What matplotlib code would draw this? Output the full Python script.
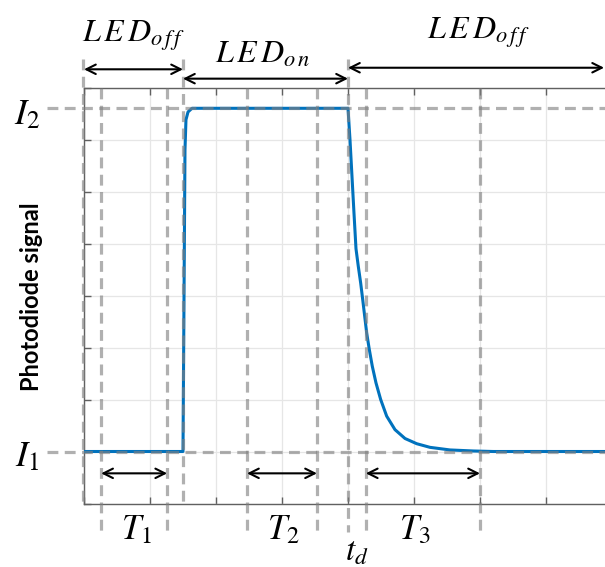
import matplotlib
matplotlib.use('Agg')
from matplotlib import pyplot as plt

plt.rcParams['mathtext.fontset'] = 'stix'

# signal levels
I1 = 1.0
I2 = 7.6

# LED switching times
t_start = 0.0
t_on = 1.5
t_off = 4.0

# measurement windows
T1 = (0.26, 1.26)
T2 = (2.47, 3.53)
T3 = (4.27, 6.0)

# photodiode trace
time = [0.0, 1.5, 1.515, 1.53, 1.545, 1.576, 1.636, 4.0, 4.03, 4.06, 4.09,
        4.121, 4.156, 4.192, 4.223, 4.253, 4.283, 4.323, 4.368, 4.424, 4.495,
        4.586, 4.712, 4.864, 5.041, 5.242, 5.545, 5.9, 6.2, 8.0]
signal = [1.0, 1.0, 3.9, 6.8, 7.38, 7.53, 7.6, 7.6, 7.0, 6.3, 5.6,
          4.9, 4.56, 4.24, 3.92, 3.6, 3.28, 2.96, 2.64, 2.32, 2.0,
          1.68, 1.42, 1.25, 1.15, 1.08, 1.03, 1.01, 1.0, 1.0]

fig = plt.figure(figsize=(6.05, 5.67), dpi=100)
ax = fig.add_axes([84/605, 63.5/567, 528/605, 416/567])

# trace
ax.plot(time, signal, color='#0072BD', lw=2.2, zorder=3)

# axes look (matlab like)
ax.set_xlim(0, 8)
ax.set_ylim(0, 8)
ax.set_xticks(range(9))
ax.set_yticks(range(9))
ax.set_xticklabels([])
ax.set_yticklabels([])
ax.tick_params(direction='in', top=True, length=5, color='#606060', width=1)
ax.grid(True, color='#e6e6e6', lw=0.9)
ax.set_axisbelow(True)
for s in ax.spines.values():
    s.set_color('#606060')
    s.set_linewidth(1.0)

dash = dict(color='gray', alpha=0.62, lw=2.3, dashes=(3.4, 2.0), clip_on=False, zorder=4)

# horizontal level lines
for lev in (I1, I2):
    ax.plot([-0.56, 8], [lev, lev], **dash)

# LED switching lines
ax.plot([t_start - 0.015]*2, [8.54, 0], **dash)
ax.plot([t_on]*2, [8.54, 0], **dash)
ax.plot([t_off]*2, [8.54, -0.54], **dash)

# window edges
for win in (T1, T2, T3):
    for edge in win:
        ax.plot([edge]*2, [8, -0.54], **dash)

def arrow(x0, x1, y):
    ax.annotate('', xy=(x1, y), xytext=(x0, y),
                arrowprops=dict(arrowstyle='<->', color='k', lw=1.5,
                                shrinkA=0, shrinkB=0, mutation_scale=17),
                annotation_clip=False, zorder=5)

arrow(t_start, t_on, 8.35)
arrow(t_on, t_off, 8.17)
arrow(t_off, 7.88, 8.38)
for win in (T1, T2, T3):
    arrow(win[0], win[1], 0.58)

# labels
txt = dict(ha='center', va='baseline', clip_on=False)
ax.text(0.75, 8.88, r'$L\,E\,D_{o\,f\,f}$', fontsize=23, **txt)
ax.text(2.71, 8.48, r'$L\,E\,D_{o\,n}$', fontsize=23, **txt)
ax.text(5.97, 8.94, r'$L\,E\,D_{o\,f\,f}$', fontsize=23, **txt)
ax.text(0.80, -0.69, r'$T_1$', fontsize=25, **txt)
ax.text(3.02, -0.69, r'$T_2$', fontsize=25, **txt)
ax.text(5.02, -0.69, r'$T_3$', fontsize=25, **txt)
ax.text(4.14, -1.1, r'$t_d$', fontsize=24, **txt)
ax.text(-0.86, 7.3, r'$I_2$', fontsize=26, **txt)
ax.text(-0.86, 0.72, r'$I_1$', fontsize=26, **txt)

fig.text(32/605, 1 - 297/567, 'Photodiode signal', rotation=90, fontsize=17,
         fontweight='bold', family='Lato', ha='center', va='center')

fig.savefig('out.png', dpi=100)
